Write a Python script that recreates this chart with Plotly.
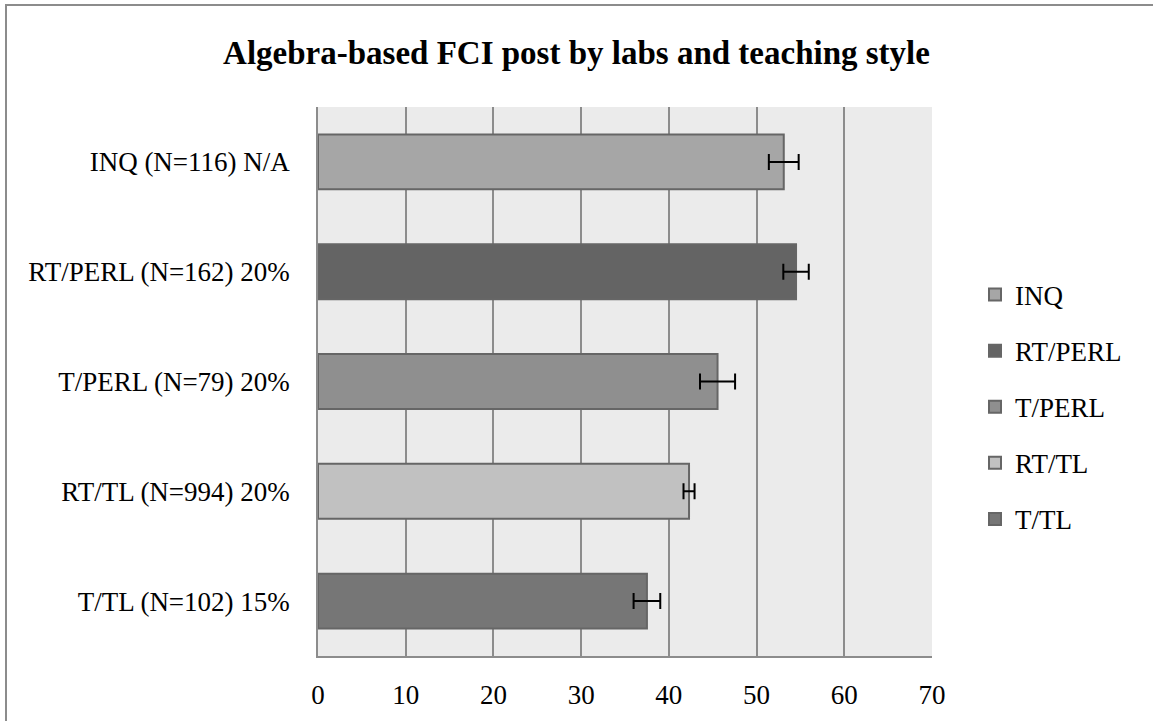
import plotly.graph_objects as go

# data
categories = ["INQ (N=116) N/A", "RT/PERL (N=162) 20%", "T/PERL (N=79) 20%",
              "RT/TL (N=994) 20%", "T/TL (N=102) 15%"]
series_names = ["INQ", "RT/PERL", "T/PERL", "RT/TL", "T/TL"]
post_scores = [53.1, 54.5, 45.55, 42.3, 37.5]
error_sizes = [1.7, 1.45, 2.0, 0.63, 1.52]
bar_colors = ["#a6a6a6", "#646464", "#8f8f8f", "#c1c1c1", "#767676"]
x_ticks = [0, 10, 20, 30, 40, 50, 60, 70]

W, H = 1153, 721
ML, MR, MT, MB = 318, 221, 107, 65
FONT = "Liberation Serif"

fig = go.Figure()

for name, cat, val, err, col in zip(series_names, categories, post_scores, error_sizes, bar_colors):
    fig.add_trace(go.Bar(
        y=[cat], x=[val], name=name, orientation="h",
        width=0.5, legendgroup=name,
        marker=dict(color=col, line=dict(color="#666666", width=2)),
        error_x=dict(type="data", array=[err], color="black", thickness=2, width=8),
    ))

pw = W - ML - MR
ph = H - MT - MB

fig.update_layout(
    width=W, height=H,
    margin=dict(l=ML, r=MR, t=MT, b=MB),
    paper_bgcolor="white",
    plot_bgcolor="#ebebeb",
    barmode="overlay",
    font=dict(family=FONT, size=27, color="black"),
    title=dict(text="<b>Algebra-based FCI post by labs and teaching style</b>",
               x=0.5, xanchor="center", y=1 - 52 / H, yanchor="middle",
               font=dict(family=FONT, size=33)),
    xaxis=dict(range=[0, 70], tickvals=x_ticks, showgrid=True, gridcolor="#8c8c8c",
               gridwidth=1.5, zeroline=False, showline=True, linecolor="#8c8c8c",
               linewidth=1.5, ticks="", ticklabelstandoff=14, fixedrange=True),
    yaxis=dict(categoryorder="array", categoryarray=categories[::-1],
               showgrid=False, showline=True, linecolor="#8c8c8c", linewidth=1.5,
               ticks="", ticklabelstandoff=21, fixedrange=True),
    legend=dict(x=(975 - ML) / pw, xanchor="left", y=1 - (407 - MT) / ph, yanchor="middle",
                traceorder="grouped", tracegroupgap=18, itemwidth=30,
                font=dict(family=FONT, size=27), bgcolor="rgba(0,0,0,0)"),
    showlegend=True,
    shapes=[dict(type="rect", xref="paper", yref="paper",
                 x0=(6 - ML) / pw, x1=(W + 5 - ML) / pw,
                 y0=(MB - H - 5) / ph, y1=1 + (MT - 5) / ph,
                 line=dict(color="#8c8c8c", width=2), layer="below")],
)

fig.write_html("out.html", config={"displayModeBar": False},
               post_script="document.body.style.margin='0';")
